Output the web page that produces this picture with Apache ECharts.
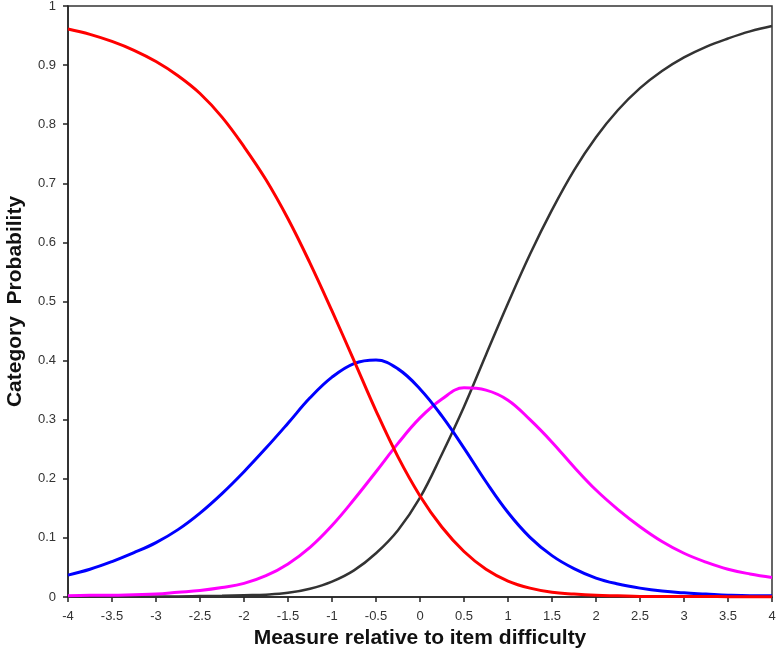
<!DOCTYPE html>
<html>
<head>
<meta charset="utf-8">
<script src="https://cdn.jsdelivr.net/npm/echarts@6/dist/echarts.min.js"></script>
<style>
  html, body { margin: 0; padding: 0; background: #fff; }
  #chart { width: 777px; height: 659px; }
</style>
</head>
<body>
<div id="chart"></div>
<script>
// measure values (logits), one point every 0.25
const measures = [
  -4, -3.75, -3.5, -3.25, -3, -2.75, -2.5, -2.25, -2, -1.75, -1.5, -1.25, -1, -0.75, -0.5, -0.25,
  0, 0.25, 0.5, 0.75, 1, 1.25, 1.5, 1.75, 2, 2.25, 2.5, 2.75, 3, 3.25, 3.5, 3.75, 4
]

// category probabilities
const cat0 = [
  0.961, 0.952, 0.940, 0.925, 0.906, 0.882, 0.852, 0.812, 0.762, 0.706, 0.640, 0.565, 0.484, 0.400, 0.315, 0.237,
  0.171, 0.118, 0.077, 0.047, 0.027, 0.015, 0.008, 0.005, 0.003, 0.002, 0.001, 0.001, 0.001, 0.001, 0.0005, 0.0005, 0.0005
]
const cat1 = [
  0.037, 0.047, 0.060, 0.075, 0.092, 0.114, 0.142, 0.175, 0.212, 0.252, 0.294, 0.337, 0.372, 0.395, 0.401, 0.386,
  0.352, 0.306, 0.252, 0.195, 0.143, 0.101, 0.070, 0.048, 0.032, 0.022, 0.015, 0.010, 0.007, 0.005, 0.003, 0.002, 0.002
]
const cat2 = [
  0.002, 0.003, 0.003, 0.004, 0.005, 0.008, 0.011, 0.016, 0.023, 0.036, 0.056, 0.084, 0.121, 0.165, 0.212, 0.260,
  0.303, 0.335, 0.354, 0.350, 0.333, 0.300, 0.262, 0.220, 0.181, 0.148, 0.119, 0.094, 0.074, 0.059, 0.047, 0.039, 0.033
]
const cat3 = [
  0.0003, 0.0004, 0.0005, 0.0007, 0.001, 0.001, 0.0015, 0.002, 0.003, 0.004, 0.007, 0.014, 0.026, 0.045, 0.074, 0.113,
  0.168, 0.242, 0.322, 0.410, 0.497, 0.580, 0.655, 0.722, 0.778, 0.824, 0.861, 0.890, 0.913, 0.931, 0.945, 0.957, 0.966
]

const xLabel = 'Measure relative to item difficulty'
const yLabel = 'Category  Probability'

function pairs(vals) {
  return measures.map((m, i) => [m, vals[i]])
}

let dom = document.getElementById('chart')
let chart = echarts.init(dom, null, { renderer: 'canvas' })

const labelFont = {
  color: '#333',
  fontFamily: 'Liberation Sans, Arial, sans-serif',
  fontSize: 13
}

const titleFont = {
  color: '#111',
  fontFamily: 'Liberation Sans, Arial, sans-serif',
  fontSize: 21,
  fontWeight: 'bold'
}

function curve(name, vals, color, width) {
  return {
    name: name,
    type: 'line',
    data: pairs(vals),
    showSymbol: false,
    smooth: 0.4,
    clip: false,
    lineStyle: { color: color, width: width },
    itemStyle: { color: color }
  }
}

let option = {
  animation: false,
  backgroundColor: '#fff',
  grid: {
    left: 68,
    right: 5,
    top: 6,
    bottom: 62,
    outerBoundsMode: 'none',
    containLabel: false,
    show: true,
    borderColor: '#333',
    borderWidth: 1.5
  },
  xAxis: {
    type: 'value',
    min: -4,
    max: 4,
    interval: 0.5,
    name: xLabel,
    nameLocation: 'middle',
    nameGap: 24,
    nameTextStyle: titleFont,
    axisLine: { show: true, onZero: false, lineStyle: { color: '#222', width: 1.5 } },
    axisTick: { show: true, length: 5, lineStyle: { color: '#222', width: 1.5 } },
    axisLabel: Object.assign({ margin: 13 }, labelFont),
    splitLine: { show: false }
  },
  yAxis: {
    type: 'value',
    min: 0,
    max: 1,
    interval: 0.1,
    name: yLabel,
    nameLocation: 'middle',
    nameGap: 42,
    nameTextStyle: titleFont,
    axisLine: { show: true, onZero: false, lineStyle: { color: '#222', width: 1.5 } },
    axisTick: { show: true, length: 5, lineStyle: { color: '#222', width: 1.5 } },
    axisLabel: Object.assign({ margin: 12 }, labelFont),
    splitLine: { show: false }
  },
  series: [
    curve('3', cat3, '#333333', 2.5),
    curve('2', cat2, '#ff00ff', 3),
    curve('1', cat1, '#0000ff', 3),
    curve('0', cat0, '#ff0000', 3)
  ]
}

chart.setOption(option)
</script>
</body>
</html>
